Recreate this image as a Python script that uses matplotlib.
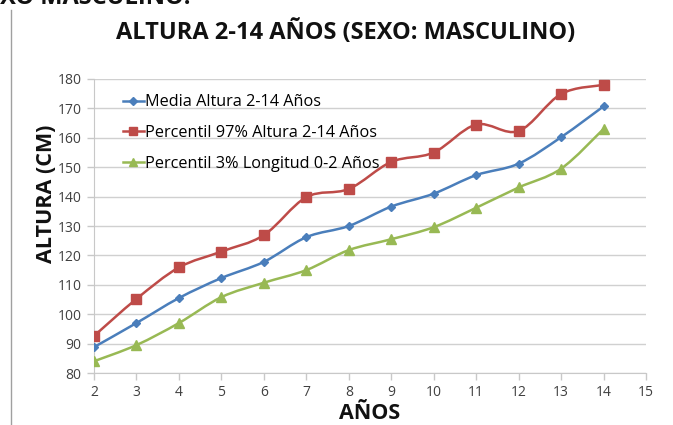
import numpy as np
import matplotlib
matplotlib.use("Agg")
import matplotlib.pyplot as plt
from matplotlib.path import Path
from matplotlib.patches import PathPatch
from matplotlib.lines import Line2D

edades = [2, 3, 4, 5, 6, 7, 8, 9, 10, 11, 12, 13, 14]
media = [88.8, 97.0, 105.5, 112.3, 117.8, 126.2, 130.0, 136.6, 141.0, 147.3, 151.2, 160.2, 170.7]
p97 = [92.6, 105.2, 115.9, 121.3, 126.9, 139.8, 142.6, 151.8, 155.0, 164.5, 162.3, 174.9, 178.0]
p3 = [84.0, 89.5, 97.0, 105.8, 110.7, 115.0, 121.8, 125.5, 129.6, 136.2, 143.1, 149.5, 163.0]
nombres = ["Media Altura 2-14 Años", "Percentil 97% Altura 2-14 Años", "Percentil 3% Longitud 0-2 Años"]
xticks = list(range(2, 16))
yticks = list(range(80, 181, 10))

colores = ["#4A7EBB", "#BE4B48", "#98B954"]
marcadores = ["D", "s", "^"]
tam = [4.5, 6.5, 6.5]

plt.rcParams['font.family'] = ['Open Sans', 'DejaVu Sans']

fig = plt.figure(figsize=(6.73, 4.25), dpi=100)
ax = fig.add_axes([94/673, 1-373/425, (646-94)/673, (373-79)/425])


def smooth_path(x, y, t=1/6):
    x = np.asarray(x, float); y = np.asarray(y, float)
    verts = [(x[0], y[0])]
    codes = [Path.MOVETO]
    n = len(x)
    for i in range(n-1):
        x0, y0 = (x[i-1], y[i-1]) if i > 0 else (x[i], y[i])
        x3, y3 = (x[i+2], y[i+2]) if i+2 < n else (x[i+1], y[i+1])
        c1 = (x[i] + (x[i+1]-x0)*t, y[i] + (y[i+1]-y0)*t)
        c2 = (x[i+1] - (x3-x[i])*t, y[i+1] - (y3-y[i])*t)
        verts += [c1, c2, (x[i+1], y[i+1])]
        codes += [Path.CURVE4]*3
    return Path(verts, codes)


handles = []
for serie, c, m, s, nm in zip([media, p97, p3], colores, marcadores, tam, nombres):
    patch = PathPatch(smooth_path(edades, serie), facecolor='none', edgecolor=c, lw=1.8, zorder=3)
    ax.add_patch(patch)
    ax.plot(edades, serie, linestyle='none', marker=m, markersize=s, color=c, zorder=4)
    handles.append(Line2D([], [], color=c, lw=1.8, marker=m, markersize=s*0.8, label=nm))

ax.set_xlim(2, 15)
ax.set_ylim(80, 180)
ax.set_xticks(xticks)
ax.set_yticks(yticks)
ax.grid(axis='y', color='#D0D0D0', lw=1)
ax.set_axisbelow(True)
for sp in ['top', 'right']:
    ax.spines[sp].set_visible(False)
ax.spines['left'].set_color('#C8C8C8')
ax.spines['bottom'].set_color('#C8C8C8')
ax.tick_params(axis='both', colors='#C8C8C8', labelcolor='#404040', labelsize=10, length=5, width=1, pad=4)

ax.set_xlabel("AÑOS", fontsize=15.5, fontweight='bold', color='#111111', labelpad=1.5)
ax.set_ylabel("ALTURA (CM)", fontsize=15.5, fontweight='bold', color='#111111')
ax.yaxis.set_label_coords((57-94)/552, (373-194)/294)

leg = ax.legend(handles=handles, loc='upper left', bbox_to_anchor=(0.04, 0.97), frameon=False,
                fontsize=11.7, handlelength=1.3, handletextpad=0.1, labelspacing=0.9, borderaxespad=0)

fig.text(346/673, 1-33/425, "ALTURA 2-14 AÑOS (SEXO: MASCULINO)", ha='center', va='center',
         fontsize=17, fontweight='bold', color='#111111')
fig.text(190/673, 1-4/425, "SEXO MASCULINO:", ha='right', va='baseline',
         fontsize=17, fontweight='bold', color='#111111')
fig.add_artist(Line2D([11/673, 11/673], [0, 1-10/425], color='#A0A0A0', lw=1))

fig.savefig("out.png", dpi=100, facecolor='white')
